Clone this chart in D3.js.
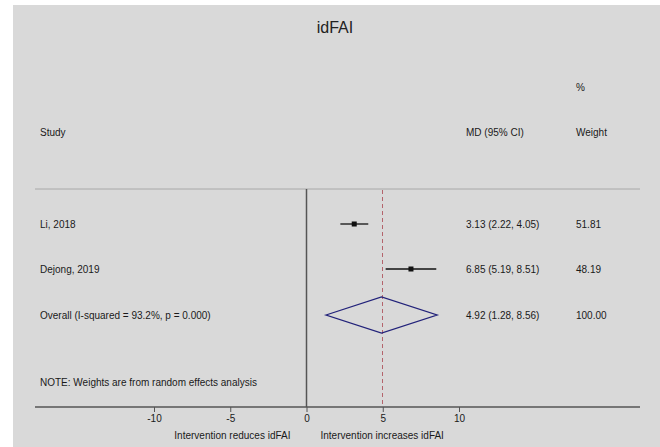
<!DOCTYPE html>
<html>
<head>
<meta charset="utf-8">
<script src="https://cdn.jsdelivr.net/npm/d3@7"></script>
<style>
  html, body { margin: 0; padding: 0; background: #ffffff; }
  svg { display: block; font-family: "Liberation Sans", Arial, sans-serif; }
</style>
</head>
<body>
<svg id="chart" width="660" height="447"></svg>
<script>
// Study-level mean differences with 95% CI and random-effects weights
const studies = ["Li, 2018", "Dejong, 2019"];
const md = [3.13, 6.85];
const lower = [2.22, 5.19];
const upper = [4.05, 8.51];
const weights = ["51.81", "48.19"];

// Pooled estimate
const overallLabel = "Overall  (I-squared = 93.2%, p = 0.000)";
const overallMd = 4.92;
const overallLower = 1.28;
const overallUpper = 8.56;
const overallWeight = "100.00";

const tickValues = [-10, -5, 0, 5, 10];

const svg = d3.select("#chart");
const W = 660, H = 447;

// panel background
svg.append("rect").attr("x", 13).attr("y", 5).attr("width", W - 13).attr("height", H - 5)
  .attr("fill", "#d9d9d9");

const x = d3.scaleLinear().domain([0, 10]).range([306.5, 459]);
const rowY = d3.scaleOrdinal().domain(["Li, 2018", "Dejong, 2019", "overall"]).range([224, 269, 315]);

const topY = 189, axisY = 407;
const textColor = "#1a1a1a";
const fs = 10;

// title
svg.append("text").attr("x", 335).attr("y", 33).attr("text-anchor", "middle")
  .attr("font-size", 16).attr("fill", "#222").text("idFAI");

// column headers
svg.append("text").attr("x", 40).attr("y", 135.5).attr("font-size", fs).attr("fill", textColor).text("Study");
svg.append("text").attr("x", 466).attr("y", 135.5).attr("font-size", fs).attr("fill", textColor).text("MD (95% CI)");
svg.append("text").attr("x", 576).attr("y", 90.5).attr("font-size", fs).attr("fill", textColor).text("%");
svg.append("text").attr("x", 576).attr("y", 135.5).attr("font-size", fs).attr("fill", textColor).text("Weight");

// top rule
svg.append("line").attr("x1", 35).attr("x2", 640).attr("y1", topY).attr("y2", topY)
  .attr("stroke", "#a8a8a8").attr("stroke-width", 1);

// null line
svg.append("line").attr("x1", x(0)).attr("x2", x(0)).attr("y1", topY).attr("y2", axisY)
  .attr("stroke", "#555").attr("stroke-width", 1.5);

// pooled effect reference line (snapped to the pixel grid so the dashes stay crisp)
const px = Math.round(x(overallMd)) + 0.5;
svg.append("line").attr("x1", px).attr("x2", px).attr("y1", topY + 1).attr("y2", axisY)
  .attr("stroke", "#b4646c").attr("stroke-width", 1).attr("stroke-dasharray", "4,3");

// study rows
studies.forEach((s, i) => {
  const y = rowY(s);
  svg.append("line").attr("x1", x(lower[i])).attr("x2", x(upper[i])).attr("y1", y).attr("y2", y)
    .attr("stroke", "#111").attr("stroke-width", 1.3);
  svg.append("rect").attr("x", x(md[i]) - 2.5).attr("y", y - 2.5).attr("width", 5).attr("height", 5)
    .attr("fill", "#111");
  svg.append("text").attr("x", 40).attr("y", y + 3.5).attr("font-size", fs).attr("fill", textColor).text(s);
  svg.append("text").attr("x", 466).attr("y", y + 3.5).attr("font-size", fs).attr("fill", textColor)
    .text(`${md[i].toFixed(2)} (${lower[i].toFixed(2)}, ${upper[i].toFixed(2)})`);
  svg.append("text").attr("x", 576).attr("y", y + 3.5).attr("font-size", fs).attr("fill", textColor).text(weights[i]);
});

// pooled diamond
const oy = rowY("overall");
const dh = 18;
svg.append("path")
  .attr("d", d3.line()([[x(overallLower), oy], [x(overallMd), oy - dh], [x(overallUpper), oy], [x(overallMd), oy + dh]]) + "Z")
  .attr("fill", "none").attr("stroke", "#22227a").attr("stroke-width", 1.3);
svg.append("text").attr("x", 40).attr("y", oy + 3.5).attr("font-size", fs).attr("fill", textColor).text(overallLabel);
svg.append("text").attr("x", 466).attr("y", oy + 3.5).attr("font-size", fs).attr("fill", textColor)
  .text(`${overallMd.toFixed(2)} (${overallLower.toFixed(2)}, ${overallUpper.toFixed(2)})`);
svg.append("text").attr("x", 576).attr("y", oy + 3.5).attr("font-size", fs).attr("fill", textColor).text(overallWeight);

// note
svg.append("text").attr("x", 40).attr("y", 385.5).attr("font-size", fs).attr("fill", textColor)
  .text("NOTE: Weights are from random effects analysis");

// x axis
svg.append("line").attr("x1", 35).attr("x2", 640).attr("y1", axisY).attr("y2", axisY)
  .attr("stroke", "#555").attr("stroke-width", 1.3);
const axis = d3.axisBottom(x).tickValues(tickValues).tickSize(5).tickSizeOuter(0).tickPadding(3)
  .tickFormat(d => String(d));
const ag = svg.append("g").attr("transform", `translate(0,${axisY})`).call(axis);
ag.select(".domain").remove();
ag.selectAll(".tick line").attr("stroke", "#555");
ag.selectAll(".tick text").attr("font-size", fs).attr("fill", textColor)
  .attr("font-family", "Liberation Sans, Arial, sans-serif");

svg.append("text").attr("x", x(0) - 16).attr("y", 439).attr("text-anchor", "end")
  .attr("font-size", fs).attr("fill", textColor).text("Intervention reduces idFAI");
svg.append("text").attr("x", x(0) + 14).attr("y", 439).attr("text-anchor", "start")
  .attr("font-size", fs).attr("fill", textColor).text("Intervention increases idFAI");
</script>
</body>
</html>
